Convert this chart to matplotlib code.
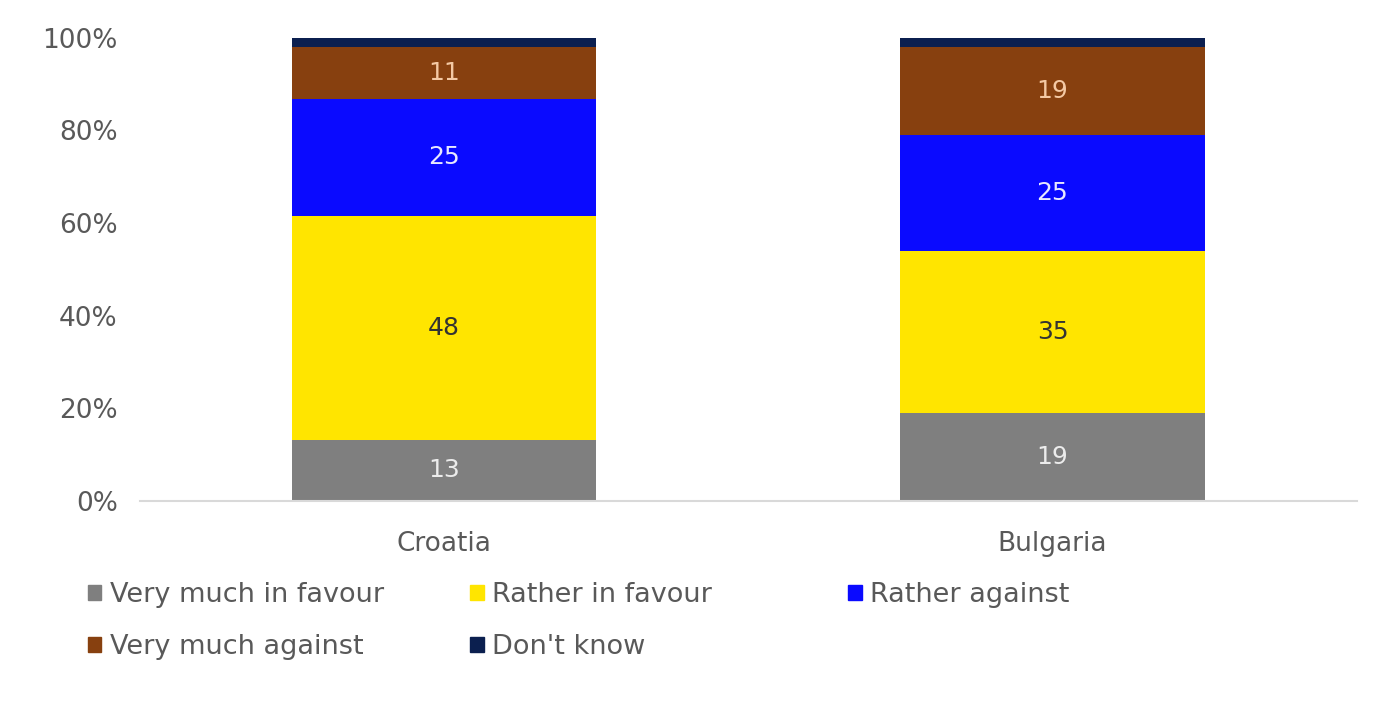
import matplotlib.pyplot as plt
from matplotlib.patches import Patch
import numpy as np

###   Data

countries = ["Croatia", "Bulgaria"]
series_names = ["Very much in favour", "Rather in favour", "Rather against",
                "Very much against", "Don't know"]
very_much_favour = [13, 19]
rather_favour = [48, 35]
rather_against = [25, 25]
very_much_against = [11, 19]
dont_know = [2, 2]
y_ticks = [0, 20, 40, 60, 80, 100]

colors = ["#7f7f7f", "#ffe500", "#0a0aff", "#87400f", "#0b1f4f"]
label_colors = ["#ececec", "#333333", "#e8e8ff", "#f4c9a4", None]

###   Plot

plt.rcParams['font.family'] = ['DejaVu Sans']

fig = plt.figure(figsize=(14, 7.28), dpi=100)
ax = fig.add_axes([0.1, 0.312, 0.869, 0.636])

data = np.array([very_much_favour, rather_favour, rather_against,
                 very_much_against, dont_know], dtype=float)
shares = data / data.sum(axis=0) * 100
x = np.arange(len(countries))

bottom = np.zeros(len(countries))
for i, name in enumerate(series_names):
    ax.bar(x, shares[i], 0.5, bottom=bottom, color=colors[i], label=name)
    if label_colors[i] is not None:
        for j in range(len(countries)):
            ax.text(x[j], bottom[j] + shares[i][j] / 2, str(int(data[i][j])),
                    ha='center', va='center', fontsize=18, color=label_colors[i])
    bottom += shares[i]

ax.set_xlim(-0.5, 1.5)
ax.set_ylim(0, 100)
ax.set_yticks(y_ticks)
ax.set_yticklabels([f"{t}%" for t in y_ticks])
ax.set_xticks(x)
ax.set_xticklabels(countries)
ax.tick_params(axis='both', length=0, labelsize=19, labelcolor='#595959')
ax.tick_params(axis='x', pad=22)
ax.tick_params(axis='y', pad=16)
for side in ['top', 'right', 'left']:
    ax.spines[side].set_visible(False)
ax.spines['bottom'].set_color('#d9d9d9')
ax.spines['bottom'].set_linewidth(1.5)

# legend: three columns laid out like the original
handles = [Patch(color=c) for c in colors]
columns = [[0, 3], [1, 4], [2]]
col_x = [0.055, 0.328, 0.598]
for cx, idx in zip(col_x, columns):
    leg = fig.legend([handles[k] for k in idx], [series_names[k] for k in idx],
                     loc='upper left', bbox_to_anchor=(cx, 0.215), frameon=False,
                     fontsize=19.5, handlelength=0.5, handleheight=0.5,
                     handletextpad=0.3, labelspacing=0.95, borderaxespad=0)
    for t in leg.get_texts():
        t.set_color('#595959')

fig.savefig("out.png", dpi=100)
